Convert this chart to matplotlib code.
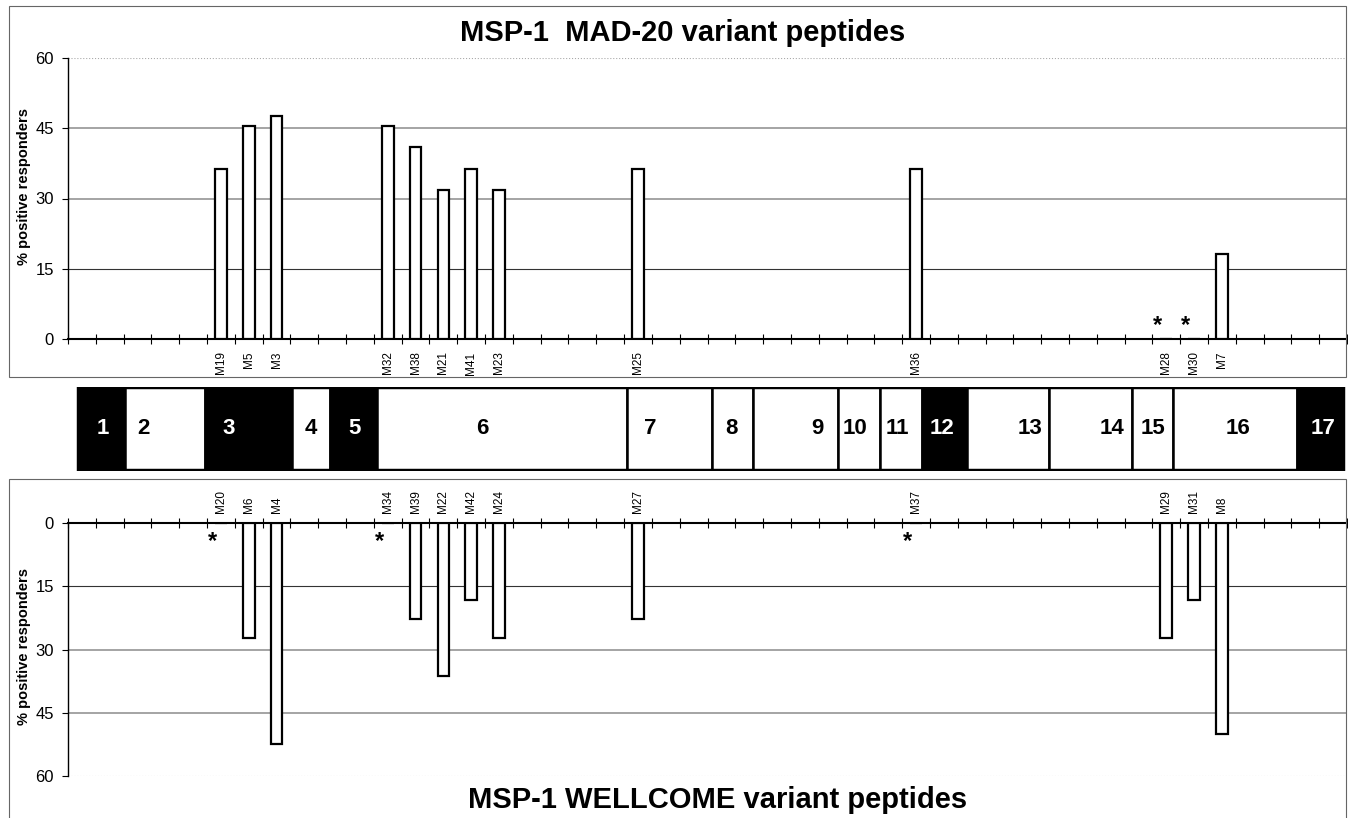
import matplotlib
matplotlib.use("Agg")
import numpy as np
import matplotlib.pyplot as plt
from matplotlib import font_manager
from matplotlib.patches import Rectangle

# peptide slots along MSP-1 (same slot for the MAD-20 / WELLCOME pair)
n_slots = 46
slots = [5, 6, 7, 11, 12, 13, 14, 15, 20, 30, 39, 40, 41]

mad_labels = ["M19", "M5", "M3", "M32", "M38", "M21", "M41", "M23", "M25", "M36", "M28", "M30", "M7"]
mad_values = [36.4, 45.5, 47.7, 45.5, 40.9, 31.8, 36.4, 31.8, 36.4, 36.4, 0, 0, 18.2]
mad_starred = ["M28", "M30"]

wel_labels = ["M20", "M6", "M4", "M34", "M39", "M22", "M42", "M24", "M27", "M37", "M29", "M31", "M8"]
wel_values = [0, 27.3, 52.4, 0, 22.7, 36.4, 18.2, 27.3, 22.7, 0, 27.3, 18.2, 50.0]
wel_starred = ["M20", "M34", "M37"]

# MSP-1 blocks (edges in slot units)
block_names = [str(i) for i in range(1, 18)]
block_edges = [0.41, 2.05, 4.91, 8.06, 9.44, 11.10, 20.10, 23.17, 24.63, 27.70,
               29.21, 30.70, 32.34, 35.28, 38.27, 39.75, 44.21, 45.86]
block_dark = [1, 0, 1, 0, 1, 0, 0, 0, 0, 0, 0, 1, 0, 0, 0, 0, 1]
block_label_x = [1.26, 2.73, 5.76, 8.74, 10.29, 14.89, 20.93, 23.85, 26.95, 28.31,
                 29.82, 31.43, 34.60, 37.55, 39.02, 42.08, 45.14]

yticks = [0, 15, 30, 45, 60]

names = {f.name for f in font_manager.fontManager.ttflist}
narrow = "Liberation Sans Narrow" if "Liberation Sans Narrow" in names else "Liberation Sans"
plt.rcParams["font.family"] = ["Liberation Sans", "DejaVu Sans"]

W, H = 1348, 818
fig = plt.figure(figsize=(W / 100, H / 100), dpi=100)


def fig_box(x0, y0, x1, y1):
    # pixel box (top-left origin) -> figure fraction rect
    return [x0 / W, 1 - y1 / H, (x1 - x0) / W, (y1 - y0) / H]


# panel frames
for y0, y1 in [(6, 377), (479, 830)]:
    fig.patches.append(Rectangle((9 / W, 1 - y1 / H), 1337 / W, (y1 - y0) / H,
                                 transform=fig.transFigure, fill=False,
                                 edgecolor="#666666", lw=0.8))

centers = np.array(slots) + 0.5


def setup(ax, labels, values, starred, top):
    ax.set_xlim(0, n_slots)
    if top:
        ax.set_ylim(0, 60)
    else:
        ax.set_ylim(60, 0)
    for v in yticks[1:]:
        if v == 15:
            ax.axhline(v, color="#333333", lw=0.8, zorder=0)
        elif v == 60:
            ax.axhline(v, color="#aaaaaa", lw=0.8, ls=":", zorder=0)
        else:
            ax.axhline(v, color="#8c8c8c", lw=1.1, zorder=0)
    ax.bar(centers, values, width=0.42, color="white", edgecolor="black", lw=1.6, zorder=3)
    for lab, x in zip(labels, centers):
        if lab in starred:
            y = 1.5 if top else 6
            ax.text(x - 0.3, y, "*", fontsize=17, fontweight="bold", ha="center",
                    va="baseline", zorder=4)
    ax.set_yticks(yticks)
    ax.set_yticklabels([str(t) for t in yticks], fontsize=12, family=narrow)
    ax.tick_params(axis="y", direction="out", length=4, width=0.8, pad=6)
    ax.set_xticks(np.arange(n_slots + 1))
    ax.set_xticklabels([])
    ax.set_xticks(centers, labels, minor=True, rotation=90, fontsize=8.5)
    ax.tick_params(axis="x", which="major", direction="inout", length=7, width=0.8)
    ax.tick_params(axis="x", which="minor", length=0, pad=9 if top else 7)
    for s in ax.spines.values():
        s.set_visible(False)
    ax.spines["left"].set_visible(True)
    ax.spines["left"].set_linewidth(1.0)
    edge = "bottom" if top else "top"
    ax.spines[edge].set_visible(True)
    ax.spines[edge].set_linewidth(1.5)
    if not top:
        ax.xaxis.tick_top()
    ax.set_ylabel("% positive responders", fontsize=10.5, fontweight="bold")
    ax.patch.set_alpha(0)


ax1 = fig.add_axes(fig_box(68, 58, 1347, 339))
setup(ax1, mad_labels, mad_values, mad_starred, True)
ax1.yaxis.set_label_coords(-0.029, 0.544)

ax2 = fig.add_axes(fig_box(68, 523, 1347, 776))
setup(ax2, wel_labels, wel_values, wel_starred, False)
ax2.yaxis.set_label_coords(-0.029, 0.51)

# MSP-1 block map
axb = fig.add_axes(fig_box(68, 387, 1347, 471))
axb.set_xlim(0, n_slots)
axb.set_ylim(0, 1)
axb.axis("off")
for i, name in enumerate(block_names):
    x0, x1 = block_edges[i], block_edges[i + 1]
    dark = block_dark[i]
    axb.add_patch(Rectangle((x0, 0), x1 - x0, 1, facecolor="black" if dark else "white",
                            edgecolor="black", lw=1.8))
    axb.text(block_label_x[i], 0.5, name, ha="center", va="center", fontsize=16,
             fontweight="bold", family=narrow, color="white" if dark else "black")
axb.add_patch(Rectangle((block_edges[0], 0), block_edges[-1] - block_edges[0], 1,
                        fill=False, edgecolor="black", lw=3.2))

fig.text(683 / W, 1 - 33 / H, "MSP-1  MAD-20 variant peptides", ha="center", va="center",
         fontsize=21, fontweight="bold", family=narrow)
fig.text(718 / W, 1 - 800 / H, "MSP-1 WELLCOME variant peptides", ha="center", va="center",
         fontsize=21, fontweight="bold", family=narrow)

fig.savefig("out.png", dpi=100)
